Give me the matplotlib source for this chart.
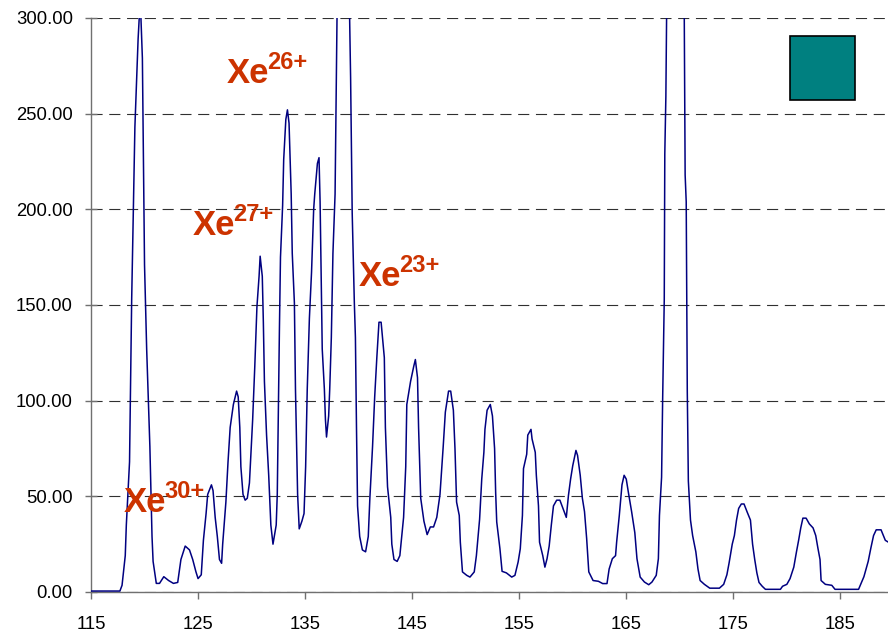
import matplotlib
matplotlib.use("Agg")
import matplotlib.pyplot as plt
from matplotlib.patches import Rectangle

plt.rcParams['font.family'] = ['Liberation Sans', 'DejaVu Sans']

# Spectrum (x: channel, y: counts); values above 300 are clipped by the axis
x_vals = [115.0, 117.7, 117.9, 118.2, 118.3, 118.6, 118.8, 119.1, 119.4, 119.6,
          119.8, 120.0, 120.2, 120.5, 120.7, 120.8, 121.1, 121.4, 121.8, 122.25,
          122.7, 123.1, 123.4, 123.8, 124.2, 124.5, 124.8, 125.0, 125.3, 125.5,
          125.75, 125.9, 126.25, 126.4, 126.6, 126.8, 127.0, 127.2, 127.3, 127.6,
          127.8, 128.0, 128.3, 128.6, 128.75, 128.9, 129.0, 129.2, 129.4, 129.6,
          129.8, 130.1, 130.3, 130.5, 130.7, 130.8, 131.0, 131.1, 131.2, 131.4,
          131.6, 131.8, 132.0, 132.3, 132.4, 132.6, 132.7, 132.9, 133.0, 133.2,
          133.35, 133.5, 133.7, 133.8, 134.0, 134.1, 134.3, 134.45, 134.7, 134.9,
          135.05, 135.2, 135.4, 135.6, 135.8, 135.9, 136.15, 136.3, 136.4, 136.5,
          136.6, 136.8, 136.9, 137.0, 137.2, 137.3, 137.45, 137.6, 137.8, 137.9,
          138.0, 138.5, 139.1, 139.25, 139.4, 139.6, 139.7, 139.8, 139.9, 140.1,
          140.35, 140.65, 140.9, 141.05, 141.3, 141.5, 141.7, 141.9, 142.1, 142.4,
          142.5, 142.7, 143.0, 143.1, 143.3, 143.6, 143.85, 144.2, 144.4, 144.5,
          144.85, 145.15, 145.3, 145.5, 145.6, 145.8, 146.1, 146.4, 146.7, 147.0,
          147.3, 147.6, 147.9, 148.1, 148.4, 148.6, 148.85, 149.0, 149.15, 149.4,
          149.5, 149.7, 150.1, 150.4, 150.8, 151.0, 151.3, 151.5, 151.7, 151.8,
          152.0, 152.3, 152.5, 152.7, 152.8, 152.9, 153.2, 153.4, 153.8, 154.3,
          154.6, 154.9, 155.1, 155.3, 155.4, 155.7, 155.8, 156.1, 156.2, 156.5,
          156.6, 156.8, 156.9, 157.2, 157.4, 157.6, 157.8, 158.0, 158.2, 158.5,
          158.8, 159.1, 159.4, 159.6, 159.8, 160.0, 160.3, 160.45, 160.7, 160.9,
          161.1, 161.3, 161.5, 161.9, 162.4, 162.8, 163.2, 163.4, 163.7, 164.0,
          164.1, 164.35, 164.6, 164.8, 165.0, 165.2, 165.5, 165.8, 166.0, 166.3,
          166.7, 167.1, 167.4, 167.8, 168.0, 168.1, 168.3, 168.4, 168.55, 168.6,
          168.7, 168.8, 169.5, 170.4, 170.5, 170.6, 170.65, 170.7, 170.8, 171.0,
          171.2, 171.5, 171.7, 171.9, 172.3, 172.8, 173.7, 174.1, 174.4, 174.6,
          174.9, 175.1, 175.3, 175.5, 175.75, 176.0, 176.3, 176.6, 176.8, 177.0,
          177.2, 177.4, 177.7, 178.0, 179.4, 179.6, 180.0, 180.3, 180.65, 180.9,
          181.1, 181.3, 181.5, 181.8, 182.1, 182.45, 182.7, 182.9, 183.1, 183.2,
          183.6, 184.2, 184.5, 186.7, 186.9, 187.2, 187.5, 187.6, 187.85, 188.1,
          188.35, 188.8, 189.2, 189.5]
y_vals = [0.5, 0.5, 3.5, 19, 35, 68, 153, 243, 289, 310,
          279, 171, 127, 76, 29, 16, 4.5, 4.5, 8, 6,
          4.5, 5, 17, 24, 22, 17, 10.6, 7, 9, 27,
          41, 51, 56, 53, 39, 29, 17, 15, 25, 47,
          68, 86, 98, 105, 102, 86, 65.5, 51, 48, 49,
          57, 90, 118, 149, 165, 175.5, 165, 141, 110, 82,
          61, 35, 25, 35, 51, 137, 175, 202, 226, 247,
          252, 245, 208, 177, 151, 106, 51, 33, 37, 41,
          65.5, 106, 143, 167, 200, 208, 224, 227, 204, 167,
          127, 106, 90, 81, 92, 106, 133, 177, 208, 257,
          310, 600, 320, 269, 198, 151, 133, 86, 45, 29,
          22, 21, 29, 49, 76, 102, 122.5, 141, 141, 122.5,
          86, 55, 39, 25, 17, 16, 19, 39, 65.5, 98,
          110, 118, 121.5, 112, 86, 49, 37, 30, 34, 34,
          39, 51, 76, 94, 105, 105, 95, 75, 47, 40,
          26, 10.5, 8.7, 7.8, 10.5, 19, 38, 59, 73, 85,
          95, 98, 92, 75, 52, 36.6, 22.6, 10.8, 10, 7.8,
          8.7, 15.7, 22.6, 40, 64.5, 72, 82, 85, 80, 73,
          61, 45, 26, 19, 13, 17.4, 24, 35, 45, 48,
          48, 43.5, 39, 50.5, 59, 66, 74, 71.4, 61, 49,
          42, 28, 10.5, 6, 5.6, 4.4, 4.4, 12, 17.4, 19,
          26, 40, 56, 61, 59, 52, 42, 31, 17.4, 7.8,
          5.2, 3.8, 5.2, 8.7, 17.4, 40, 60, 101, 153, 229,
          259, 320, 700, 320, 218, 204, 157, 105, 58, 37.6,
          29.5, 21, 12, 6, 4, 2, 2, 4, 9, 15,
          25, 29.5, 37.6, 43.7, 46, 46, 41.7, 37.6, 25, 17,
          10, 5, 3, 1.4, 1.4, 3, 4, 7, 13, 21,
          27, 33.5, 38.6, 38.6, 35.6, 33.5, 29.5, 23, 17, 6,
          4, 3.5, 1.4, 1.4, 4, 8, 14, 16, 23, 29.5,
          32.5, 32.5, 27, 26]

x_ticks = [115, 125, 135, 145, 155, 165, 175, 185]
y_ticks = [0, 50, 100, 150, 200, 250, 300]

# Ion labels: (main text, superscript, x, y)
ion_labels = [("Xe", "26+", 127.7, 265.9),
              ("Xe", "27+", 124.5, 186.6),
              ("Xe", "23+", 140.0, 159.9),
              ("Xe", "30+", 118.05, 42.0)]

fig = plt.figure(figsize=(8.88, 6.37), dpi=100)
ax = fig.add_axes([91 / 888, 45 / 637, (888 - 91) / 888, (592 - 18) / 637])

ax.plot(x_vals, y_vals, color='#000080', lw=1.1, zorder=3)

ax.set_xlim(115, 189.45)
ax.set_ylim(0, 300)
ax.set_xticks(x_ticks)
ax.set_xticklabels([str(t) for t in x_ticks])
ax.set_yticks(y_ticks)
ax.set_yticklabels([f"{t:.2f}" for t in y_ticks])

ax.yaxis.grid(True, color='#303030', lw=0.8, linestyle=(0, (10, 6)))
ax.set_axisbelow(True)
for s in ['top', 'right']:
    ax.spines[s].set_visible(False)
for s in ['left', 'bottom']:
    ax.spines[s].set_color('#707070')
    ax.spines[s].set_linewidth(1.0)

ax.tick_params(axis='y', direction='inout', length=8, width=1, color='#707070',
               labelsize=13.3, pad=9)
ax.tick_params(axis='x', direction='out', length=5, width=1, color='#707070',
               labelsize=13.3, pad=12)

red = '#CC3300'
for main, sup, lx, ly in ion_labels:
    ax.text(lx, ly, main, fontsize=25, fontweight='bold', color=red,
            ha='left', va='baseline', zorder=4)
    ax.annotate(sup, xy=(lx, ly), xytext=(29, 10), textcoords='offset points',
                fontsize=17, fontweight='bold', color=red,
                ha='left', va='baseline', zorder=4)

fig.patches.append(Rectangle((790 / 888, (637 - 100) / 637), 65 / 888, 64 / 637,
                             transform=fig.transFigure, facecolor='#008080',
                             edgecolor='black', lw=1.2))

fig.savefig('out.png', dpi=100)
